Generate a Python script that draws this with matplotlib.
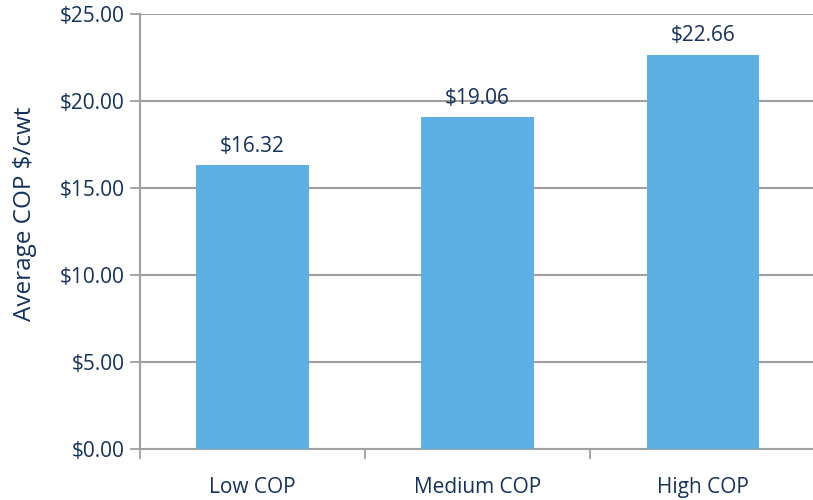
import matplotlib.pyplot as plt
from matplotlib.ticker import FuncFormatter

plt.rcParams['font.family'] = ['Open Sans', 'DejaVu Sans']

categories = ['Low COP', 'Medium COP', 'High COP']
avg_cop = [16.32, 19.06, 22.66]

text_color = '#14325a'
bar_color = '#5eafe3'
grid_color = '#a0a0a0'

fig = plt.figure(figsize=(8.13, 5.0), dpi=100)
ax = fig.add_axes([0.172, 0.102, 0.831, 0.87])

x = range(len(categories))
bars = ax.bar(x, avg_cop, 0.5, color=bar_color, zorder=3)

for b, v in zip(bars, avg_cop):
    ax.annotate('${:.2f}'.format(v), (b.get_x() + b.get_width() / 2, v),
                xytext=(0, 6), textcoords='offset points', ha='center', va='bottom',
                fontsize=15, color=text_color)

ax.set_ylim(0, 25)
ax.set_yticks(range(0, 26, 5))
ax.yaxis.set_major_formatter(FuncFormatter(lambda v, p: '${:.2f}'.format(v)))
ax.set_xlim(-0.5, len(categories) - 0.5)
ax.set_xticks(list(x))
ax.set_xticklabels(categories)
ax.set_xticks([i + 0.5 for i in range(-1, len(categories))], minor=True)

ax.grid(axis='y', color=grid_color, linewidth=1.5, zorder=0)
ax.tick_params(axis='x', which='major', length=0, pad=20, labelsize=15, labelcolor=text_color)
ax.tick_params(axis='x', which='minor', length=7, width=1.3, color=grid_color, direction='out')
ax.tick_params(axis='y', length=7, width=1.3, color=grid_color, labelsize=15,
               labelcolor=text_color, pad=4)

for s in ['top', 'right']:
    ax.spines[s].set_visible(False)
for s in ['left', 'bottom']:
    ax.spines[s].set_color(grid_color)
    ax.spines[s].set_linewidth(1.5)

ax.set_ylabel('Average COP $/cwt', fontsize=17.5, color=text_color)
ax.yaxis.set_label_coords(-0.152, 0.54)

fig.savefig('out.png', dpi=100)
